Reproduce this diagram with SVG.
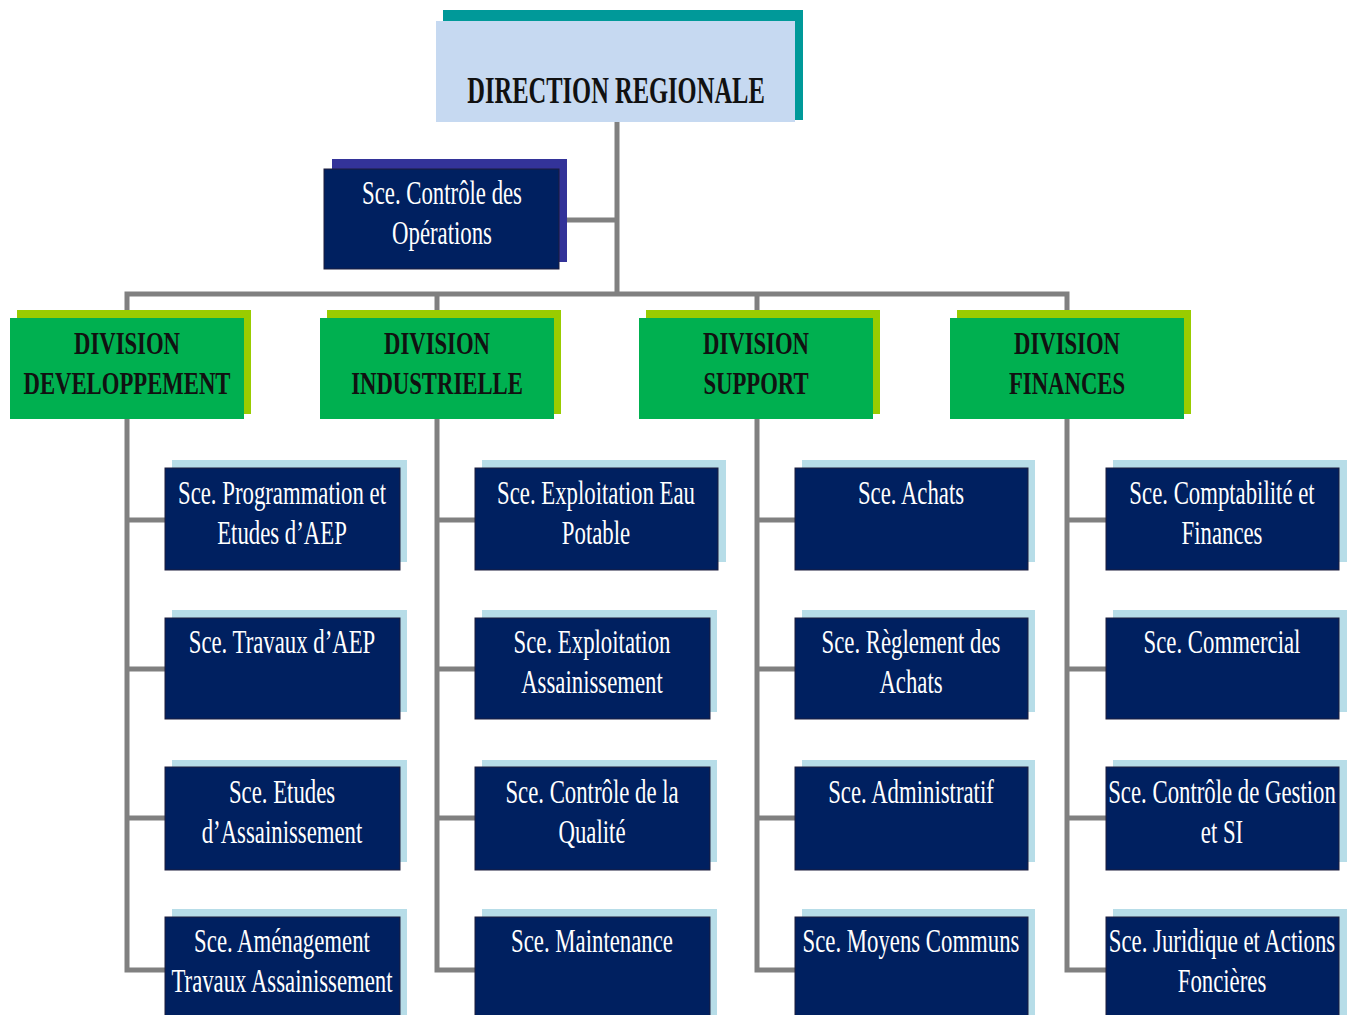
<svg xmlns="http://www.w3.org/2000/svg" width="1349" height="1015" viewBox="0 0 1349 1015">
<style>
.bg{fill:#ffffff}
.conn{fill:none;stroke:#808080;stroke-width:5;stroke-linejoin:miter}
.topsh{fill:#009999}
.topbox{fill:#c6d9f1}
.ctlsh{fill:#333399}
.navy{fill:#002060;stroke:#1c1c3c;stroke-width:1}
.divsh{fill:#99cc00}
.divbox{fill:#00b050}
.scesh{fill:#b7dde8}
.t-title{font-family:"Liberation Serif","Times New Roman",serif;font-weight:bold;font-size:38px;fill:#111111;text-anchor:middle}
.t-div{font-family:"Liberation Serif","Times New Roman",serif;font-weight:bold;font-size:32px;fill:#111111;text-anchor:middle}
.t-sce{font-family:"Liberation Serif","Times New Roman",serif;font-size:34px;fill:#ffffff;text-anchor:middle}
</style>
<rect class="bg" x="0" y="0" width="1349" height="1015"/>

<g id="connectors">
  <path class="conn" d="M617 122 V294"/>
  <path class="conn" d="M559 220 H617"/>
  <path class="conn" d="M127 318 V294 H1067 V318"/>
  <path class="conn" d="M437 294 V318"/>
  <path class="conn" d="M757 294 V318"/>
  <path class="conn" d="M127 418 V970 H165 M127 520 H165 M127 669 H165 M127 818 H165"/>
  <path class="conn" d="M437 418 V970 H475 M437 520 H475 M437 669 H475 M437 818 H475"/>
  <path class="conn" d="M757 418 V970 H795 M757 520 H795 M757 669 H795 M757 818 H795"/>
  <path class="conn" d="M1067 418 V970 H1106 M1067 520 H1106 M1067 669 H1106 M1067 818 H1106"/>
</g>

<g id="direction-regionale">
  <rect class="topsh" x="443" y="10" width="360" height="110"/>
  <rect class="topbox" x="436" y="21" width="359" height="101"/>
  <g transform="translate(616 0) scale(0.645 1)"><text class="t-title" x="0" y="103">DIRECTION REGIONALE</text></g>
</g>

<g id="sce-controle-operations">
  <rect class="ctlsh" x="332" y="159" width="235" height="103"/>
  <rect class="navy" x="324" y="169" width="235" height="100"/>
  <g transform="translate(442 0) scale(0.67 1)"><text class="t-sce" x="0" y="204">Sce. Contrôle des</text><text class="t-sce" x="0" y="244">Opérations</text></g>
</g>

<g id="div-developpement">
  <rect class="divsh" x="17" y="310" width="234" height="104"/>
  <rect class="divbox" x="10" y="318" width="234" height="101"/>
  <g transform="translate(127 0) scale(0.71 1)"><text class="t-div" x="0" y="354">DIVISION</text><text class="t-div" x="0" y="394">DEVELOPPEMENT</text></g>
</g>
<g id="div-industrielle">
  <rect class="divsh" x="327" y="310" width="234" height="104"/>
  <rect class="divbox" x="320" y="318" width="234" height="101"/>
  <g transform="translate(437 0) scale(0.71 1)"><text class="t-div" x="0" y="354">DIVISION</text><text class="t-div" x="0" y="394">INDUSTRIELLE</text></g>
</g>
<g id="div-support">
  <rect class="divsh" x="646" y="310" width="234" height="104"/>
  <rect class="divbox" x="639" y="318" width="234" height="101"/>
  <g transform="translate(756 0) scale(0.71 1)"><text class="t-div" x="0" y="354">DIVISION</text><text class="t-div" x="0" y="394">SUPPORT</text></g>
</g>
<g id="div-finances">
  <rect class="divsh" x="957" y="310" width="234" height="104"/>
  <rect class="divbox" x="950" y="318" width="234" height="101"/>
  <g transform="translate(1067 0) scale(0.71 1)"><text class="t-div" x="0" y="354">DIVISION</text><text class="t-div" x="0" y="394">FINANCES</text></g>
</g>

<!-- Column 1 -->
<g id="sce-programmation">
  <rect class="scesh" x="172" y="460" width="235" height="102"/>
  <rect class="navy" x="165" y="468" width="235" height="102"/>
  <g transform="translate(282 0) scale(0.67 1)"><text class="t-sce" x="0" y="504">Sce. Programmation et</text><text class="t-sce" x="0" y="544">Etudes d’AEP</text></g>
</g>
<g id="sce-travaux-aep">
  <rect class="scesh" x="172" y="610" width="235" height="102"/>
  <rect class="navy" x="165" y="618" width="235" height="101"/>
  <g transform="translate(282 0) scale(0.67 1)"><text class="t-sce" x="0" y="653">Sce. Travaux d’AEP</text></g>
</g>
<g id="sce-etudes-assainissement">
  <rect class="scesh" x="172" y="760" width="235" height="102"/>
  <rect class="navy" x="165" y="767" width="235" height="103"/>
  <g transform="translate(282 0) scale(0.67 1)"><text class="t-sce" x="0" y="803">Sce. Etudes</text><text class="t-sce" x="0" y="843">d’Assainissement</text></g>
</g>
<g id="sce-amenagement">
  <rect class="scesh" x="172" y="909" width="235" height="106"/>
  <rect class="navy" x="165" y="917" width="235" height="104"/>
  <g transform="translate(282 0) scale(0.67 1)"><text class="t-sce" x="0" y="952">Sce. Aménagement</text><text class="t-sce" x="0" y="992">Travaux Assainissement</text></g>
</g>

<!-- Column 2 -->
<g id="sce-exploitation-eau">
  <rect class="scesh" x="482" y="460" width="244" height="102"/>
  <rect class="navy" x="475" y="468" width="243" height="102"/>
  <g transform="translate(596 0) scale(0.67 1)"><text class="t-sce" x="0" y="504">Sce. Exploitation Eau</text><text class="t-sce" x="0" y="544">Potable</text></g>
</g>
<g id="sce-exploitation-assainissement">
  <rect class="scesh" x="482" y="610" width="235" height="102"/>
  <rect class="navy" x="475" y="618" width="235" height="101"/>
  <g transform="translate(592 0) scale(0.67 1)"><text class="t-sce" x="0" y="653">Sce. Exploitation</text><text class="t-sce" x="0" y="693">Assainissement</text></g>
</g>
<g id="sce-controle-qualite">
  <rect class="scesh" x="482" y="760" width="235" height="102"/>
  <rect class="navy" x="475" y="767" width="235" height="103"/>
  <g transform="translate(592 0) scale(0.67 1)"><text class="t-sce" x="0" y="803">Sce. Contrôle de la</text><text class="t-sce" x="0" y="843">Qualité</text></g>
</g>
<g id="sce-maintenance">
  <rect class="scesh" x="482" y="909" width="235" height="106"/>
  <rect class="navy" x="475" y="917" width="235" height="104"/>
  <g transform="translate(592 0) scale(0.67 1)"><text class="t-sce" x="0" y="952">Sce. Maintenance</text></g>
</g>

<!-- Column 3 -->
<g id="sce-achats">
  <rect class="scesh" x="802" y="460" width="233" height="102"/>
  <rect class="navy" x="795" y="468" width="233" height="102"/>
  <g transform="translate(911 0) scale(0.67 1)"><text class="t-sce" x="0" y="504">Sce. Achats</text></g>
</g>
<g id="sce-reglement-achats">
  <rect class="scesh" x="802" y="610" width="233" height="102"/>
  <rect class="navy" x="795" y="618" width="233" height="101"/>
  <g transform="translate(911 0) scale(0.67 1)"><text class="t-sce" x="0" y="653">Sce. Règlement des</text><text class="t-sce" x="0" y="693">Achats</text></g>
</g>
<g id="sce-administratif">
  <rect class="scesh" x="802" y="760" width="233" height="102"/>
  <rect class="navy" x="795" y="767" width="233" height="103"/>
  <g transform="translate(911 0) scale(0.67 1)"><text class="t-sce" x="0" y="803">Sce. Administratif</text></g>
</g>
<g id="sce-moyens-communs">
  <rect class="scesh" x="802" y="909" width="233" height="106"/>
  <rect class="navy" x="795" y="917" width="233" height="104"/>
  <g transform="translate(911 0) scale(0.67 1)"><text class="t-sce" x="0" y="952">Sce. Moyens Communs</text></g>
</g>

<!-- Column 4 -->
<g id="sce-comptabilite">
  <rect class="scesh" x="1113" y="460" width="234" height="102"/>
  <rect class="navy" x="1106" y="468" width="233" height="102"/>
  <g transform="translate(1222 0) scale(0.67 1)"><text class="t-sce" x="0" y="504">Sce. Comptabilité et</text><text class="t-sce" x="0" y="544">Finances</text></g>
</g>
<g id="sce-commercial">
  <rect class="scesh" x="1113" y="610" width="234" height="102"/>
  <rect class="navy" x="1106" y="618" width="233" height="101"/>
  <g transform="translate(1222 0) scale(0.67 1)"><text class="t-sce" x="0" y="653">Sce. Commercial</text></g>
</g>
<g id="sce-controle-gestion">
  <rect class="scesh" x="1113" y="760" width="234" height="102"/>
  <rect class="navy" x="1106" y="767" width="233" height="103"/>
  <g transform="translate(1222 0) scale(0.67 1)"><text class="t-sce" x="0" y="803">Sce. Contrôle de Gestion</text><text class="t-sce" x="0" y="843">et SI</text></g>
</g>
<g id="sce-juridique">
  <rect class="scesh" x="1113" y="909" width="234" height="106"/>
  <rect class="navy" x="1106" y="917" width="233" height="104"/>
  <g transform="translate(1222 0) scale(0.67 1)"><text class="t-sce" x="0" y="952">Sce. Juridique et Actions</text><text class="t-sce" x="0" y="992">Foncières</text></g>
</g>
</svg>
